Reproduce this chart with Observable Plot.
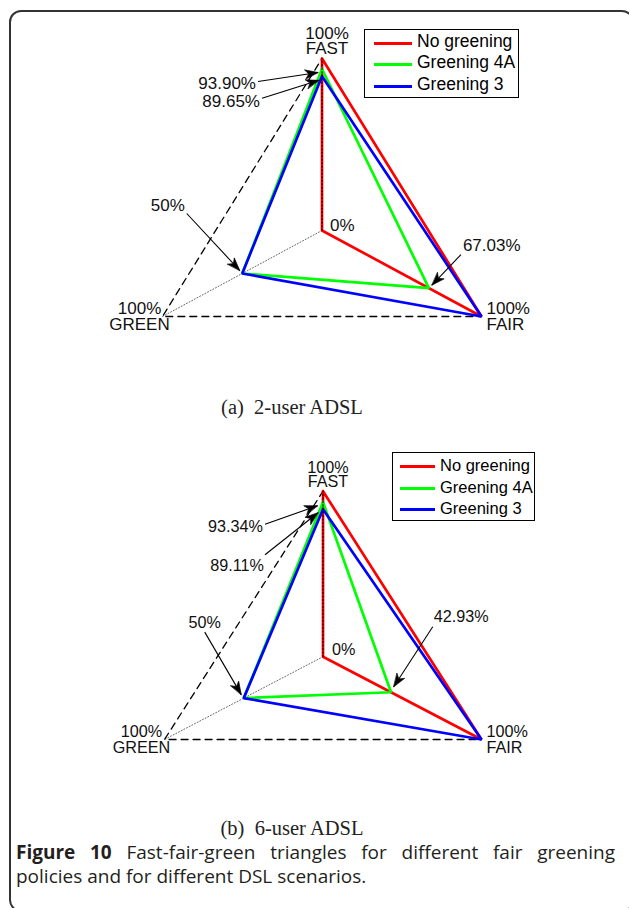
<!DOCTYPE html>
<html><head><meta charset="utf-8">
<script src="https://cdn.jsdelivr.net/npm/d3@7"></script>
<script src="https://cdn.jsdelivr.net/npm/@observablehq/plot@0.6"></script>
<style>
body{margin:0;background:#fff;}
#page{position:relative;width:629px;height:908px;overflow:hidden;background:#fff;}
#border{position:absolute;left:9px;top:10px;width:625px;height:902px;box-sizing:border-box;border:2px solid #333;border-radius:12px;}
.panel{position:absolute;left:0;}
.legend{position:absolute;box-sizing:border-box;border:1.3px solid #000;background:#fff;font-family:"Liberation Sans",Arial,sans-serif;color:#000;}
.legend .sw{position:absolute;height:3px;}
.legend .lb{position:absolute;white-space:nowrap;line-height:1;}
.sub{position:absolute;left:0;width:584px;text-align:center;font-family:"Liberation Serif","Times New Roman",serif;font-size:20.5px;color:#222;}
.cap{position:absolute;left:16px;width:599px;font-family:"Open Sans","Noto Sans",sans-serif;font-size:19px;color:#231f20;line-height:24px;white-space:nowrap;}
.cap.j{text-align:justify;text-align-last:justify;white-space:normal;}
</style></head>
<body><div id="page"><div id="border"></div></div>
<script>
// ---------- data ----------
const axesNames = ["FAST", "FAIR", "GREEN"];
const seriesNames = ["No greening", "Greening 4A", "Greening 3"];
const seriesColors = ["#ff0000", "#00ff00", "#0000ff"];
// values in % along FAST, FAIR, GREEN
const adsl2NoGreening = [100, 100, 0];
const adsl2Greening4A = [93.90, 67.03, 50];
const adsl2Greening3 = [89.65, 100, 50];
const adsl6NoGreening = [100, 100, 0];
const adsl6Greening4A = [93.34, 42.93, 50];
const adsl6Greening3 = [89.11, 100, 50];
const subCaptions = ["(a)\u00a0\u00a02-user ADSL", "(b)\u00a0\u00a06-user ADSL"];

// ---------- geometry ----------
const RAD = Math.PI / 180;
const axisAngle = {FAST: 90, FAIR: -30, GREEN: 210};
const C30 = Math.cos(30 * RAD);
function polar(axis, pct) {
  const a = axisAngle[axis] * RAD;
  return {x: pct / 100 * Math.cos(a), y: pct / 100 * Math.sin(a)};
}
function fmt(v) { return (Number.isInteger(v) ? v : v.toFixed(2)) + "%"; }

const panels = [
  {top: 0, height: 400, xRange: [162, 481], yRange: [316, 58], font: 17,
   values: [adsl2NoGreening, adsl2Greening4A, adsl2Greening3],
   notes: [
     {s: 1, axis: "FAST", text: [-66, 14.5], anchor: "end", tail: [-64, 12.5], tip: [-4, 3.5]},
     {s: 2, axis: "FAST", text: [-62, 25], anchor: "end", tail: [-60, 22], tip: [-3, 4]},
     {s: 2, axis: "GREEN", text: [-74.5, -68], anchor: "middle", tail: [-55.5, -60], tip: [-2.5, -3]},
     {s: 0, axis: "GREEN", text: [8, -5], anchor: "start"},
     {s: 1, axis: "FAIR", text: [34, -42.6], anchor: "start", tail: [32, -33.6], tip: [3, -3]}
   ],
   legend: {left: 364, top: 29, width: 155, height: 69, rows: [13, 34, 56], sw: [9, 38], tx: 52, font: 17.5},
   subY: 407},
  {top: 430, height: 330, xRange: [164, 481], yRange: [309, 60.7], font: 16.2,
   values: [adsl6NoGreening, adsl6Greening4A, adsl6Greening3],
   notes: [
     {s: 1, axis: "FAST", text: [-60, 24.5], anchor: "end", tail: [-58, 22], tip: [-5.5, 3.5]},
     {s: 2, axis: "FAST", text: [-59, 56.5], anchor: "end", tail: [-58, 45.5], tip: [-5, 3.5]},
     {s: 2, axis: "GREEN", text: [-39, -75], anchor: "middle", tail: [-39, -66], tip: [-2.5, -3.5]},
     {s: 0, axis: "GREEN", text: [9, -7], anchor: "start"},
     {s: 1, axis: "FAIR", text: [42.7, -75.5], anchor: "start", tail: [41.7, -65.5], tip: [2.7, -5.5]}
   ],
   legend: {left: 392, top: 452, width: 143, height: 69, rows: [13, 35, 56], sw: [7, 35], tx: 47, font: 16.5},
   subY: 828}
];

const page = document.getElementById("page");

// filled arrowhead shape for Plot.vector (tip at the vector end)
const headShape = {
  draw(context, l) {
    const h = 13, w = 4.6;
    context.moveTo(0, -l);
    context.lineTo(-w, -l + h);
    context.lineTo(0, -l + h * 0.72);
    context.lineTo(w, -l + h);
    context.closePath();
  }
};

panels.forEach((P, pi) => {
  const ppx = (P.xRange[1] - P.xRange[0]) / (2 * C30);
  const ppy = (P.yRange[0] - P.yRange[1]) / 1.5;
  const off = (pt, o) => ({x: pt.x + o[0] / ppx, y: pt.y - o[1] / ppy});

  const poly = [];
  seriesNames.forEach((s, i) => {
    const vals = P.values[i];
    [0, 1, 2, 0].forEach((k, j) => {
      const p = polar(axesNames[k], vals[k]);
      poly.push({series: s, order: j, x: p.x, y: p.y});
    });
  });
  const outer = [0, 1, 2, 0].map(k => ({...polar(axesNames[k], 100)}));
  const axisLine = name => [polar(name, 0), polar(name, 100)];
  const axisLabels = axesNames.map(n => ({...polar(n, 100), text: "100%\n" + n, name: n}));

  const notes = P.notes.map(n => {
    const v = P.values[n.s][axesNames.indexOf(n.axis)];
    const vp = polar(n.axis, v);
    const t = off(vp, n.text);
    const r = {label: fmt(v), anchor: n.anchor, tx: t.x, ty: t.y};
    if (n.tail) {
      const a = off(vp, n.tail), b = off(vp, n.tip);
      const rot = Math.atan2(n.tip[0] - n.tail[0], -(n.tip[1] - n.tail[1])) / RAD;
      Object.assign(r, {x1: a.x, y1: a.y, x2: b.x, y2: b.y, rot});
    }
    return r;
  });
  const arrows = notes.filter(d => d.x1 !== undefined);

  const fontFamily = "'Liberation Sans', Arial, sans-serif";
  const baseMarks = [
    Plot.line(axisLine("GREEN"), {x: "x", y: "y", stroke: "#666", strokeWidth: 1, strokeDasharray: "1,2"}),
    Plot.line(axisLine("FAIR"), {x: "x", y: "y", stroke: "#666", strokeWidth: 1, strokeDasharray: "1,2"}),
    Plot.line(outer, {x: "x", y: "y", stroke: "#000", strokeWidth: 1.3, strokeDasharray: "7,5"}),
    Plot.line(poly, {x: "x", y: "y", z: "series", stroke: "series", strokeWidth: 2.7, strokeLinejoin: "miter", strokeLinecap: "round"}),
    Plot.line(axisLine("FAST"), {x: "x", y: "y", stroke: "#000", strokeWidth: 1, strokeDasharray: "1.5,2"}),
    Plot.text(axisLabels.filter(d => d.name === "FAST"), {x: "x", y: "y", text: "text", dx: 5, dy: pi === 0 ? -17 : -16, lineHeight: 0.92, fill: "#111"}),
    Plot.text(axisLabels.filter(d => d.name === "GREEN"), {x: "x", y: "y", text: "text", dx: -23, dy: 0, lineHeight: 0.98, fill: "#111"}),
    Plot.text(axisLabels.filter(d => d.name === "FAIR"), {x: "x", y: "y", text: "text", dx: 5, dy: 0, lineHeight: 0.98, textAnchor: "start", fill: "#111"}),
    ...["start", "middle", "end"].map(an => Plot.text(notes.filter(d => d.anchor === an), {x: "tx", y: "ty", text: "label", textAnchor: an, fill: "#111"}))
  ];
  const opts = (marks) => ({
    width: 629, height: P.height, margin: 0,
    x: {domain: [-C30, C30], range: P.xRange, axis: null},
    y: {domain: [-0.5, 1], range: P.yRange, axis: null},
    color: {domain: seriesNames, range: seriesColors},
    style: {fontFamily, fontSize: P.font + "px", background: "transparent", overflow: "visible"},
    marks
  });
  let plot;
  try {
    plot = Plot.plot(opts([...baseMarks,
      Plot.link(arrows, {x1: "x1", y1: "y1", x2: "x2", y2: "y2", stroke: "#000", strokeWidth: 1.1}),
      Plot.vector(arrows, {x: "x2", y: "y2", rotate: "rot", length: 13, anchor: "end", shape: headShape, fill: "#000", stroke: "#000", strokeWidth: 0.6})
    ]));
  } catch (e) {
    plot = Plot.plot(opts([...baseMarks,
      Plot.arrow(arrows, {x1: "x1", y1: "y1", x2: "x2", y2: "y2", stroke: "#000", strokeWidth: 1.1, headLength: 13, headAngle: 40})
    ]));
  }
  plot.classList.add("panel");
  plot.style.top = P.top + "px";
  page.appendChild(plot);

  const L = P.legend;
  const lg = document.createElement("div");
  lg.className = "legend";
  Object.assign(lg.style, {left: L.left + "px", top: L.top + "px", width: L.width + "px", height: L.height + "px", fontSize: L.font + "px"});
  seriesNames.forEach((s, i) => {
    const sw = document.createElement("div");
    sw.className = "sw";
    Object.assign(sw.style, {left: L.sw[0] + "px", width: (L.sw[1]) + "px", top: (L.rows[i] - 1.5) + "px", background: seriesColors[i]});
    const lb = document.createElement("div");
    lb.className = "lb";
    lb.textContent = s;
    Object.assign(lb.style, {left: L.tx + "px", top: (L.rows[i] - L.font * 0.55) + "px"});
    lg.appendChild(sw); lg.appendChild(lb);
  });
  page.appendChild(lg);

  const sub = document.createElement("div");
  sub.className = "sub";
  sub.textContent = subCaptions[pi];
  sub.style.top = (P.subY - 12) + "px";
  sub.style.lineHeight = "24px";
  page.appendChild(sub);
});

const c1 = document.createElement("div");
c1.className = "cap j";
c1.style.top = "840px";
c1.innerHTML = "<b>Figure 10</b> Fast-fair-green triangles for different fair greening";
const c2 = document.createElement("div");
c2.className = "cap";
c2.style.top = "864px";
c2.textContent = "policies and for different DSL scenarios.";
page.appendChild(c1); page.appendChild(c2);
</script></body></html>
